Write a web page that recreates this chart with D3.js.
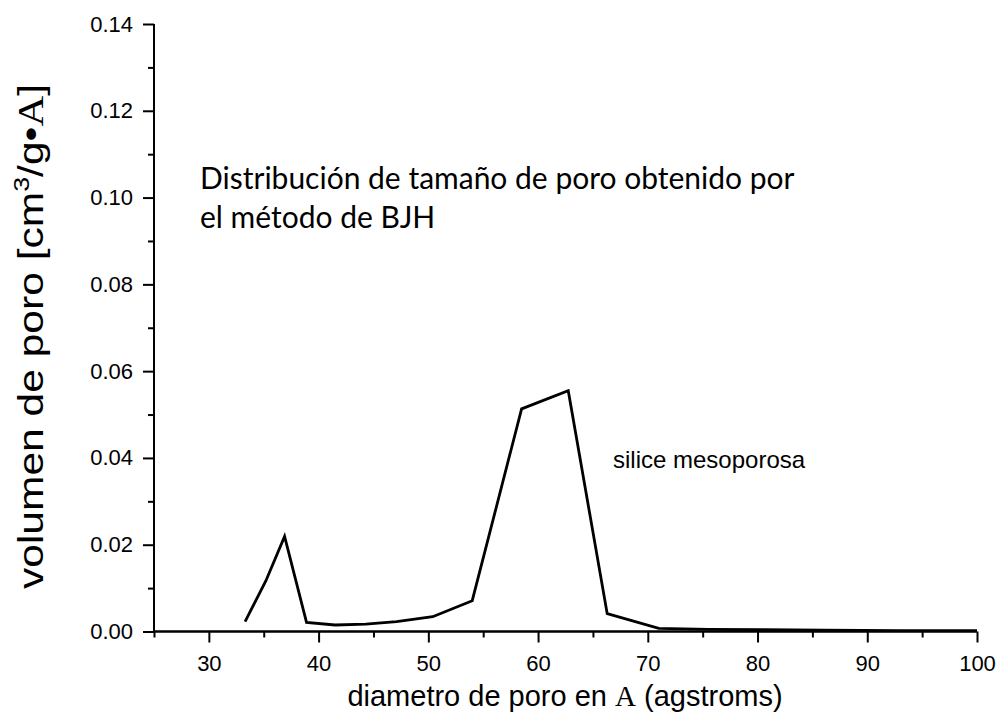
<!DOCTYPE html>
<html>
<head>
<meta charset="utf-8">
<script src="https://cdn.jsdelivr.net/npm/d3@7"></script>
<style>
  html, body { margin: 0; padding: 0; background: #fff; }
  svg { display: block; }
</style>
</head>
<body>
<svg id="chart" width="1000" height="723"></svg>
<script>
// BJH pore size distribution: pore diameter (Å) vs pore volume
const diameters = [33.3, 35.2, 36.9, 38.9, 41.5, 44.3, 47.1, 50.4, 54.0, 58.5, 62.75, 66.3, 71.0, 75.5, 80.5, 86.0, 93.0, 100.0];
const volumes   = [0.0023, 0.0117, 0.0219, 0.0021, 0.0015, 0.0017, 0.0023, 0.0034, 0.0071, 0.0513, 0.0555, 0.0041, 0.0007, 0.0005, 0.0004, 0.0003, 0.0002, 0.0002];

const xMajorTicks = [30, 40, 50, 60, 70, 80, 90, 100];
const xMinorTicks = [25, 35, 45, 55, 65, 75, 85, 95];
const yMajorTicks = [0.00, 0.02, 0.04, 0.06, 0.08, 0.10, 0.12, 0.14];
const yMinorTicks = [0.01, 0.03, 0.05, 0.07, 0.09, 0.11, 0.13];

const svg = d3.select("#chart");
const plot = { left: 154, right: 977, top: 24, bottom: 631.5 };

const x = d3.scaleLinear().domain([25, 100]).range([plot.left, plot.right]);
const y = d3.scaleLinear().domain([0, 0.14]).range([plot.bottom, plot.top]);

const axisFont = "Arial, 'Liberation Sans', sans-serif";
const serifFont = "'Liberation Serif', 'DejaVu Serif', serif";

// x axis: minor ticks, then major ticks with labels
const gxMinor = svg.append("g").attr("transform", `translate(0,${plot.bottom})`)
  .call(d3.axisBottom(x).tickValues(xMinorTicks).tickSize(6).tickFormat(""));
const gx = svg.append("g").attr("transform", `translate(0,${plot.bottom})`)
  .call(d3.axisBottom(x).tickValues(xMajorTicks).tickSize(11).tickPadding(13).tickFormat(d3.format("d")));

// y axis
const gyMinor = svg.append("g").attr("transform", `translate(${plot.left},0)`)
  .call(d3.axisLeft(y).tickValues(yMinorTicks).tickSize(6).tickFormat(""));
const gy = svg.append("g").attr("transform", `translate(${plot.left},0)`)
  .call(d3.axisLeft(y).tickValues(yMajorTicks).tickSize(11).tickPadding(10).tickFormat(d3.format(".2f")));

[gxMinor, gx, gyMinor, gy].forEach(g => {
  g.select(".domain").attr("stroke", "#000").attr("stroke-width", 2);
  g.selectAll(".tick line").attr("stroke", "#000").attr("stroke-width", 2);
  g.selectAll(".tick text").attr("fill", "#000")
    .style("font-family", axisFont).style("font-size", "22px");
});
gxMinor.select(".domain").attr("d", `M${plot.left},0H${plot.right}`);
gx.select(".domain").attr("d", `M${plot.left},0H${plot.right}`);
gyMinor.select(".domain").attr("d", `M0,${plot.bottom}V${plot.top}`);
gy.select(".domain").attr("d", `M0,${plot.bottom}V${plot.top}`);

// distribution curve
const line = d3.line()
  .x((d, i) => x(diameters[i]))
  .y(d => y(d));
svg.append("path")
  .datum(volumes)
  .attr("fill", "none")
  .attr("stroke", "#000")
  .attr("stroke-width", 2.8)
  .attr("stroke-linejoin", "miter")
  .attr("d", line);

// axis titles
const xTitle = svg.append("text")
  .attr("x", 565).attr("y", 706)
  .attr("text-anchor", "middle")
  .style("font-family", axisFont).style("font-size", "29px")
  .attr("fill", "#000");
xTitle.append("tspan").text("diametro de poro en ");
xTitle.append("tspan").style("font-family", serifFont).text("A");
xTitle.append("tspan").text(" (agstroms)");

const yTitle = svg.append("text")
  .attr("transform", "translate(43,589) rotate(-90)")
  .attr("text-anchor", "start")
  .attr("textLength", 505)
  .attr("lengthAdjust", "spacingAndGlyphs")
  .style("font-family", axisFont).style("font-size", "35px")
  .attr("fill", "#000");
yTitle.append("tspan").text("volumen de poro [cm");
yTitle.append("tspan").attr("dy", -14).style("font-size", "22px").text("3");
yTitle.append("tspan").attr("dy", 14).text("/g•");
yTitle.append("tspan").style("font-family", serifFont).text("A");
yTitle.append("tspan").text("]");

// annotations
const noteFont = "'Lato', 'Open Sans', sans-serif";
svg.append("text").attr("x", 200).attr("y", 189)
  .style("font-family", noteFont).style("font-size", "30px").attr("fill", "#000")
  .text("Distribución de tamaño de poro obtenido por");
svg.append("text").attr("x", 200).attr("y", 228)
  .style("font-family", noteFont).style("font-size", "30px").attr("fill", "#000")
  .text("el método de BJH");

svg.append("text").attr("x", 613).attr("y", 468)
  .style("font-family", axisFont).style("font-size", "24px").attr("fill", "#000")
  .text("silice mesoporosa");
</script>
</body>
</html>
